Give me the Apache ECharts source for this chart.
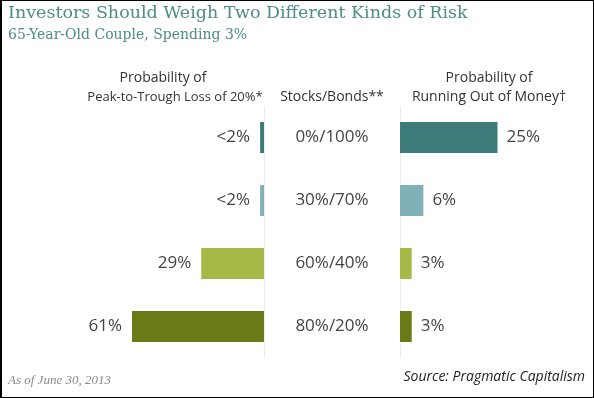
<!DOCTYPE html>
<html>
<head>
<meta charset="utf-8">
<script src="https://cdn.jsdelivr.net/npm/echarts@6/dist/echarts.min.js"></script>
<style>
body { margin: 0; background: #fff; }
#chart { width: 594px; height: 398px; }
#frame { position: absolute; left: 0; top: 0; width: 594px; height: 398px; box-sizing: border-box;
  border: 1px solid #000; border-left-width: 2px; pointer-events: none; }
</style>
</head>
<body>
<div id="chart"></div>
<div id="frame"></div>
<script>
// stock/bond mixes (rows, top to bottom)
var mixes = ['0%/100%', '30%/70%', '60%/40%', '80%/20%'];
// probability of a 20% peak-to-trough loss
var lossValues = [1.8, 1.8, 29, 61];
var lossLabels = ['<2%', '<2%', '29%', '61%'];
// probability of running out of money
var ruinValues = [25, 6, 3, 3];
var ruinLabels = ['25%', '6%', '3%', '3%'];
var rowColors = ['#3b7b79', '#80b1b6', '#a5b947', '#697a17'];

var teal = '#4d8c89';
var sans = '"Open Sans", "Liberation Sans", sans-serif';
var serif = '"DejaVu Serif", "Liberation Serif", serif';

function barData(vals) {
    var out = [];
    for (var i = 0; i < vals.length; i++) {
        out.push({ value: vals[i], itemStyle: { color: rowColors[i] } });
    }
    return out;
}

var myChart = echarts.init(document.getElementById('chart'));

var option = {
    backgroundColor: '#fff',
    animation: false,
    grid: [
        { left: 132, width: 132, top: 106, height: 252 },
        { left: 400, width: 97.5, top: 106, height: 252 }
    ],
    xAxis: [
        { gridIndex: 0, type: 'value', min: 0, max: 61, inverse: true, show: false },
        { gridIndex: 1, type: 'value', min: 0, max: 25, show: false }
    ],
    yAxis: [
        {
            gridIndex: 0, type: 'category', data: mixes, inverse: true, position: 'right',
            axisLine: { show: true, onZero: false, lineStyle: { color: '#ececec' } },
            axisTick: { show: false }, axisLabel: { show: false }
        },
        {
            gridIndex: 1, type: 'category', data: mixes, inverse: true, position: 'left',
            axisLine: { show: true, onZero: false, lineStyle: { color: '#ececec' } },
            axisTick: { show: false },
            axisLabel: { margin: 68, align: 'center', fontFamily: sans, fontSize: 17, color: '#444' }
        }
    ],
    series: [
        {
            type: 'bar', xAxisIndex: 0, yAxisIndex: 0, barWidth: 31,
            data: barData(lossValues),
            label: {
                show: true, position: 'left', distance: 10, fontFamily: sans, fontSize: 17, color: '#444',
                formatter: function (p) { return lossLabels[p.dataIndex]; }
            }
        },
        {
            type: 'bar', xAxisIndex: 1, yAxisIndex: 1, barWidth: 31,
            data: barData(ruinValues),
            label: {
                show: true, position: 'right', distance: 9, fontFamily: sans, fontSize: 17, color: '#444',
                formatter: function (p) { return ruinLabels[p.dataIndex]; }
            }
        }
    ],
    graphic: [
        { type: 'text', left: 8, top: 4, style: { text: 'Investors Should Weigh Two Different Kinds of Risk', font: '17.5px ' + serif, fill: teal } },
        { type: 'text', left: 8, top: 28, style: { text: '65-Year-Old Couple, Spending 3%', font: '14px ' + serif, fill: teal } },
        { type: 'text', x: 163, y: 78, style: { text: 'Probability of', font: '14px ' + sans, fill: '#333', align: 'center', verticalAlign: 'middle' } },
        { type: 'text', x: 175, y: 97, style: { text: 'Peak-to-Trough Loss of 20%*', font: '13px ' + sans, fill: '#333', align: 'center', verticalAlign: 'middle' } },
        { type: 'text', x: 332, y: 97, style: { text: 'Stocks/Bonds**', font: '14px ' + sans, fill: '#333', align: 'center', verticalAlign: 'middle' } },
        { type: 'text', x: 489, y: 78, style: { text: 'Probability of', font: '14px ' + sans, fill: '#333', align: 'center', verticalAlign: 'middle' } },
        { type: 'text', x: 489, y: 97, style: { text: 'Running Out of Money\u2020', font: '14px ' + sans, fill: '#333', align: 'center', verticalAlign: 'middle' } },
        { type: 'text', x: 8, y: 381, style: { text: 'As of June 30, 2013', font: 'italic 13px "Liberation Serif", serif', fill: '#888', verticalAlign: 'middle' } },
        { type: 'text', x: 585, y: 377, style: { text: 'Source: Pragmatic Capitalism', font: 'italic 14px ' + sans, fill: '#222', align: 'right', verticalAlign: 'middle' } }
    ]
};

myChart.setOption(option);
</script>
</body>
</html>
